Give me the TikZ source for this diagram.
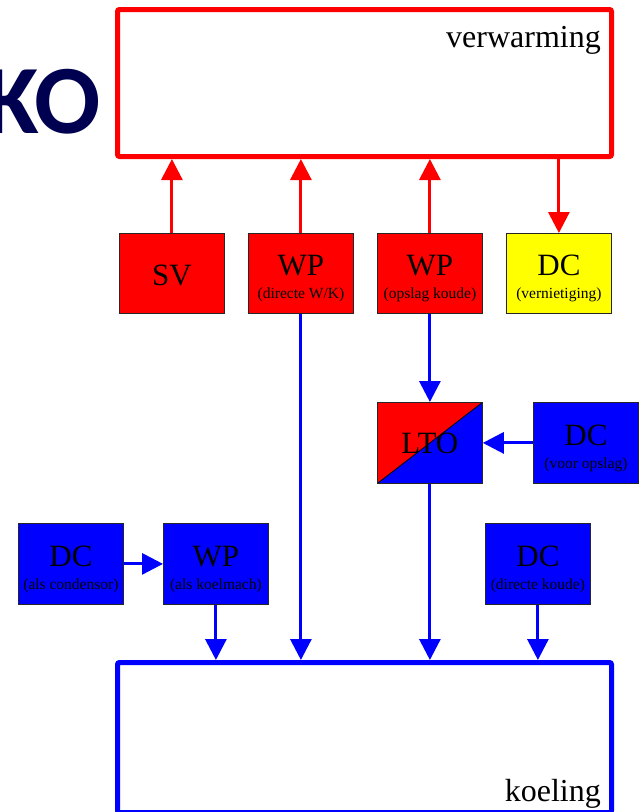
\documentclass[tikz,border=0pt]{standalone}
\usepackage{fontspec}
\setmainfont{Liberation Serif}
\newfontfamily\kofont{Carlito}
\usetikzlibrary{arrows.meta}
\definecolor{konavy}{RGB}{0,0,80}
\definecolor{kored}{RGB}{255,0,0}
\definecolor{koblue}{RGB}{0,0,255}
\definecolor{koyellow}{RGB}{255,255,0}
\begin{document}
\begin{tikzpicture}[x=1pt,y=-1pt,
  box/.style={draw=black!85,line width=0.8pt,minimum width=105pt,minimum height=80pt,inner sep=0pt,anchor=north west},
  redbox/.style={box,fill=kored},
  bluebox/.style={box,fill=koblue},
  yelbox/.style={box,fill=koyellow},
  bigtxt/.style={font=\fontsize{31}{31}\selectfont,anchor=base,inner sep=0pt},
  smalltxt/.style={font=\fontsize{15.5}{16}\selectfont,anchor=base,inner sep=0pt},
  redarr/.style={draw=kored,line width=3pt,-{Triangle[width=21pt,length=21pt]}},
  bluearr/.style={draw=koblue,line width=3pt,-{Triangle[width=21pt,length=21pt]}},
  bigbox/.style={line width=5pt,rounded corners=2pt,minimum width=494pt,inner sep=0pt,anchor=north west}
]
\useasboundingbox (0,0) rectangle (644,812);

% title fragment
\node[anchor=base east,inner sep=0pt,font=\kofont\bfseries\fontsize{98}{98}\selectfont,text=konavy] (ko) at (101,133) {KO};

% big boxes
\node[bigbox,draw=kored,minimum height=147pt] (verw) at (115,7) {};
\node[anchor=base east,inner sep=0pt,font=\fontsize{32}{32}\selectfont] (verwtxt) at (601,47) {verwarming};
\node[bigbox,draw=koblue,minimum height=150pt] (koel) at (115,660) {};
\node[anchor=base east,inner sep=0pt,font=\fontsize{32}{32}\selectfont] (koeltxt) at (601,801) {koeling};

% row 1
\node[redbox] (sv) at (119,233) {};
\node[bigtxt] (svt) at ([yshift=-52pt]sv.north) {SV};
\node[redbox] (wp1) at (248,233) {};
\node[bigtxt] (wp1t) at ([yshift=-42pt]wp1.north) {WP};
\node[smalltxt] (wp1s) at ([yshift=-65pt]wp1.north) {(directe W/K)};
\node[redbox] (wp2) at (377,233) {};
\node[bigtxt] (wp2t) at ([yshift=-42pt]wp2.north) {WP};
\node[smalltxt] (wp2s) at ([yshift=-65pt]wp2.north) {(opslag koude)};
\node[yelbox] (dcv) at (506,233) {};
\node[bigtxt] (dcvt) at ([yshift=-42pt]dcv.north) {DC};
\node[smalltxt] (dcvs) at ([yshift=-65pt]dcv.north) {(vernietiging)};

% row 2
\node[box,minimum height=81pt,
  path picture={
    \fill[kored] (path picture bounding box.north west) -- (path picture bounding box.north east) -- (path picture bounding box.south west) -- cycle;
    \fill[koblue] (path picture bounding box.north east) -- (path picture bounding box.south east) -- (path picture bounding box.south west) -- cycle;
    \draw[black,line width=0.8pt] (path picture bounding box.south west) -- (path picture bounding box.north east);
  }] (lto) at (377,402) {};
\node[bigtxt] (ltot) at ([yshift=-51pt]lto.north) {LTO};
\node[bluebox,minimum height=81pt] (dcvo) at (533,402) {};
\node[bigtxt] (dcvot) at ([yshift=-43pt]dcvo.north) {DC};
\node[smalltxt] (dcvos) at ([yshift=-66pt]dcvo.north) {(voor opslag)};

% row 3
\node[bluebox,minimum height=81pt] (dcc) at (18,523) {};
\node[bigtxt] (dcct) at ([yshift=-43pt]dcc.north) {DC};
\node[smalltxt] (dccs) at ([yshift=-66pt]dcc.north) {(als condensor)};
\node[bluebox,minimum height=81pt] (wpk) at (163,523) {};
\node[bigtxt] (wpkt) at ([yshift=-43pt]wpk.north) {WP};
\node[smalltxt] (wpks) at ([yshift=-66pt]wpk.north) {(als koelmach)};
\node[bluebox,minimum height=81pt] (dcd) at (485,523) {};
\node[bigtxt] (dcdt) at ([yshift=-43pt]dcd.north) {DC};
\node[smalltxt] (dcds) at ([yshift=-66pt]dcd.north) {(directe koude)};

% connectors
\draw[redarr] (sv.north) -- (sv.north |- verw.south);
\draw[redarr] (wp1.north) -- (wp1.north |- verw.south);
\draw[redarr] (wp2.north) -- (wp2.north |- verw.south);
\draw[redarr] (dcv.north |- verw.south) -- (dcv.north);
\draw[bluearr] (wp1.south) -- (wp1.south |- koel.north);
\draw[bluearr] (wp2.south) -- (lto.north);
\draw[bluearr] (lto.south) -- (lto.south |- koel.north);
\draw[bluearr] (dcvo.west) -- (lto.east);
\draw[bluearr] (dcc.east) -- (wpk.west);
\draw[bluearr] (wpk.south) -- (wpk.south |- koel.north);
\draw[bluearr] (dcd.south) -- (dcd.south |- koel.north);
\end{tikzpicture}
\end{document}
